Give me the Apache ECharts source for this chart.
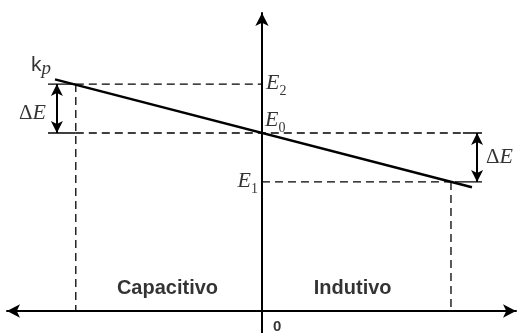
<!DOCTYPE html>
<html>
<head>
<meta charset="utf-8">
<script src="https://cdn.jsdelivr.net/npm/echarts@6/dist/echarts.min.js"></script>
<style>
html,body{margin:0;padding:0;background:#fff}
#main{width:518px;height:333px}
</style>
</head>
<body>
<div id="main"></div>
<script>
// droop characteristic E = E0 - kp*Q  (Q: reactive power, E: voltage)
const E0 = 1.0
const dE = 0.275
const E1 = E0 - dE
const E2 = E0 + dE
const qCap = -0.985   // capacitive limit
const qInd = 1.0      // inductive limit

const droopLine = [[-1.095, 1.301], [1.111, 0.695]]

// dashed guide lines
const dashedSegs = [
  [[qCap, E2], [0, E2]],
  [[qCap, E0], [1.063, E0]],
  [[0, E1], [1.021, E1]],
  [[qCap, E2], [qCap, 0]],
  [[qInd, E1], [qInd, 0]]
]
// short solid extension lines where the dE arrows sit
const solidTicks = [
  [[-1.132, E2], [qCap, E2]],
  [[-1.132, E0], [qCap, E0]],
  [[1.063, E0], [1.164, E0]],
  [[1.021, E1], [1.164, E1]]
]
const arrowQ = [-1.085, 1.138]
const regionNames = ['Capacitivo', 'Indutivo']
const regionQ = [-0.5, 0.48]

const black = '#000'
const serif = 'Liberation Serif'
const sans = 'Liberation Sans'

var myChart = echarts.init(document.getElementById('main'))

const hidden = {axisTick: {show: false}, axisLabel: {show: false}, splitLine: {show: false}}

let series = []
series.push({
  type: 'line', data: droopLine, symbol: 'none', z: 5,
  lineStyle: {color: black, width: 2.5}
})
dashedSegs.forEach(s => series.push({
  type: 'line', data: s, symbol: 'none', z: 2,
  lineStyle: {color: black, width: 1.3, type: [8, 5]}
}))
solidTicks.forEach(s => series.push({
  type: 'line', data: s, symbol: 'none', z: 2,
  lineStyle: {color: black, width: 1.3}
}))
// double arrows for delta E
series.push({
  type: 'line', data: [], symbol: 'none',
  markLine: {
    silent: true, animation: false,
    symbol: ['arrow', 'arrow'], symbolSize: [9, 12],
    label: {show: false},
    lineStyle: {color: black, width: 2, type: 'solid'},
    data: [
      [{coord: [arrowQ[0], E2]}, {coord: [arrowQ[0], E0]}],
      [{coord: [arrowQ[1], E0]}, {coord: [arrowQ[1], E1]}]
    ]
  }
})

const richE = {
  e: {fontFamily: serif, fontStyle: 'italic', fontSize: 22, lineHeight: 30, color: black},
  s: {fontFamily: serif, fontSize: 14, lineHeight: 14, verticalAlign: 'bottom', color: black},
  d: {fontFamily: serif, fontSize: 21, lineHeight: 30, color: black},
  k: {fontFamily: sans, fontSize: 21, lineHeight: 26, color: black},
  p: {fontFamily: serif, fontStyle: 'italic', fontSize: 19, lineHeight: 18, verticalAlign: 'bottom', color: black}
}
function txt(pt, text, align, dx, dy, extra) {
  return {
    value: pt,
    label: Object.assign({
      show: true, position: 'inside', formatter: text, align: align,
      verticalAlign: 'middle', offset: [dx, dy], rich: richE
    }, extra || {})
  }
}
const bold = {fontFamily: sans, fontWeight: 'bold', fontSize: 20, color: black}
series.push({
  type: 'scatter', symbolSize: 0, z: 10,
  data: [
    txt([0, E2], '{e|E}{s|2}', 'left', 4, -1),
    txt([0, E0], '{e|E}{s|0}', 'left', 3, -13),
    txt([0, E1], '{e|E}{s|1}', 'right', -4, -1),
    txt(droopLine[0], '{k|k}{p|p}', 'right', -4, -14),
    txt([arrowQ[0], (E2 + E0) / 2], '{d|Δ}{e|E}', 'right', -11, 5),
    txt([arrowQ[1], (E0 + E1) / 2], '{d|Δ}{e|E}', 'left', 9, 0),
    txt([regionQ[0], 0], regionNames[0], 'center', 0, -23, bold),
    txt([regionQ[1], 0], regionNames[1], 'center', 0, -23, bold),
    txt([0, 0], '0', 'left', 11, 16, {fontFamily: sans, fontWeight: 'bold', fontSize: 15, color: black})
  ]
})

const option = {
  animation: false,
  backgroundColor: '#fff',
  grid: {left: 7, right: 2, top: 13, bottom: 0, outerBoundsMode: 'none'},
  xAxis: Object.assign({
    type: 'value', min: -1.349, max: 1.344,
    axisLine: {onZero: true, symbol: ['arrow', 'arrow'], symbolSize: [10, 13],
      lineStyle: {color: black, width: 2}}
  }, hidden),
  yAxis: Object.assign({
    type: 'value', min: -0.1236, max: 1.674,
    axisLine: {onZero: true, symbol: ['none', 'arrow'], symbolSize: [10, 13],
      lineStyle: {color: black, width: 2}}
  }, hidden),
  series: series
}

option && myChart.setOption(option)
</script>
</body>
</html>
